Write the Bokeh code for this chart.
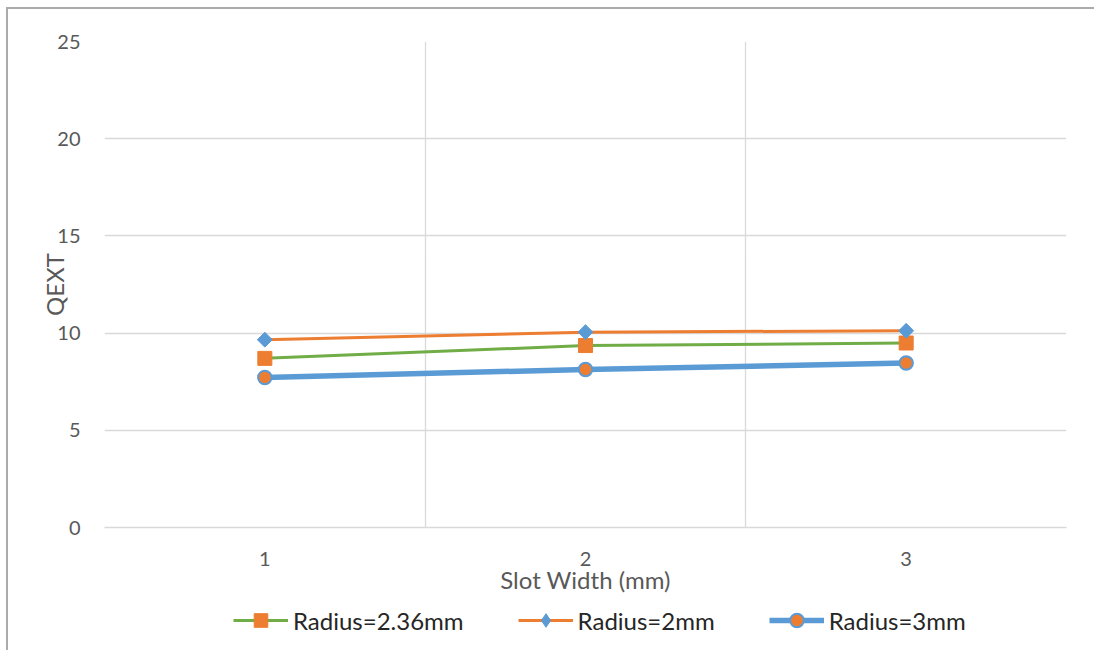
import numpy as np
from bokeh.plotting import figure
from bokeh.layouts import column
from bokeh.models import Range1d, FixedTicker, Legend, LegendItem
from bokeh.embed import file_html
from bokeh.resources import INLINE

# ---- data ----
slot_width = [1, 2, 3]
tick_labels = {1: "1", 2: "2", 3: "3"}
qext_r236 = [8.70, 9.36, 9.49]
qext_r2 = [9.66, 10.05, 10.12]
qext_r3 = [7.72, 8.13, 8.46]
series_names = ["Radius=2.36mm", "Radius=2mm", "Radius=3mm"]

GREEN = "#70AD47"
ORANGE = "#ED7D31"
BLUE = "#5B9BD5"
FONT = "Lato"
GRID = "#d9d9d9"

p = figure(width=1086, height=589, output_backend="svg", toolbar_location=None,
           x_range=Range1d(0.5, 3.5), y_range=Range1d(0, 25),
           min_border_left=96, min_border_top=32, min_border_right=28, min_border_bottom=71)
p.outline_line_color = None
p.background_fill_color = "white"
p.border_fill_color = "white"

# grids
p.xgrid.ticker = FixedTicker(ticks=[0.5, 1.5, 2.5, 3.5])
p.xgrid.grid_line_color = GRID
p.xgrid.grid_line_width = 1.3
p.ygrid.ticker = FixedTicker(ticks=[0, 5, 10, 15, 20, 25])
p.ygrid.grid_line_color = GRID
p.ygrid.grid_line_width = 1.3

# x axis
p.xaxis.ticker = FixedTicker(ticks=slot_width)
p.xaxis.major_label_overrides = tick_labels
p.xaxis.major_tick_line_color = None
p.xaxis.minor_tick_line_color = None
p.xaxis.axis_line_color = GRID
p.xaxis.axis_line_width = 1.3
p.xaxis.major_label_text_font = FONT
p.xaxis.major_label_text_font_size = "20px"
p.xaxis.major_label_text_color = "#595959"
p.xaxis.major_label_standoff = 18
p.xaxis.axis_label = "Slot Width (mm)"
p.xaxis.axis_label_text_font = FONT
p.xaxis.axis_label_text_font_size = "24px"
p.xaxis.axis_label_text_font_style = "normal"
p.xaxis.axis_label_text_color = "#595959"
p.xaxis.axis_label_standoff = -4

# y axis
p.yaxis.ticker = FixedTicker(ticks=[0, 5, 10, 15, 20, 25])
p.yaxis.major_tick_line_color = None
p.yaxis.minor_tick_line_color = None
p.yaxis.axis_line_color = None
p.yaxis.major_label_text_font = FONT
p.yaxis.major_label_text_font_size = "20px"
p.yaxis.major_label_text_color = "#595959"
p.yaxis.major_label_standoff = 18
p.yaxis.axis_label = "QEXT"
p.yaxis.axis_label_text_font = FONT
p.yaxis.axis_label_text_font_size = "24px"
p.yaxis.axis_label_text_font_style = "normal"
p.yaxis.axis_label_text_color = "#595959"
p.yaxis.axis_label_standoff = -15

# series
p.line(slot_width, qext_r236, line_color=GREEN, line_width=3)
p.scatter(slot_width, qext_r236, marker="square", size=14,
          fill_color=ORANGE, line_color=ORANGE, line_width=1)
p.line(slot_width, qext_r2, line_color=ORANGE, line_width=3)
p.scatter(slot_width, qext_r2, marker="square", angle=np.pi / 4, size=10.5,
          fill_color=BLUE, line_color=BLUE, line_width=1)
p.line(slot_width, qext_r3, line_color=BLUE, line_width=5.5)
p.scatter(slot_width, qext_r3, marker="circle", size=13.5,
          fill_color=ORANGE, line_color=BLUE, line_width=2)

# ---- legend strip (separate small figure below; series lie outside its view) ----
q = figure(width=1086, height=52, output_backend="svg", toolbar_location=None,
           x_range=Range1d(0.5, 3.5), y_range=Range1d(100, 101),
           min_border_left=0, min_border_right=0, min_border_top=0, min_border_bottom=0)
q.axis.visible = False
q.grid.visible = False
q.outline_line_color = None
q.background_fill_color = "white"
q.border_fill_color = "white"

g1 = q.line(slot_width, qext_r236, line_color=GREEN, line_width=3)
s1 = q.scatter(slot_width, qext_r236, marker="square", fill_color=ORANGE, line_color=ORANGE)
g2 = q.line(slot_width, qext_r2, line_color=ORANGE, line_width=3)
s2 = q.scatter(slot_width, qext_r2, marker="diamond", fill_color=BLUE, line_color=BLUE)
g3 = q.line(slot_width, qext_r3, line_color=BLUE, line_width=5.5)
s3 = q.scatter(slot_width, qext_r3, marker="circle", fill_color=ORANGE, line_color=BLUE, line_width=2)

legend = Legend(items=[
    LegendItem(label=series_names[0], renderers=[g1, s1]),
    LegendItem(label=series_names[1], renderers=[g2, s2]),
    LegendItem(label=series_names[2], renderers=[g3, s3]),
], orientation="horizontal", location=(129, 13))
legend.glyph_width = 55
legend.glyph_height = 34
legend.label_standoff = 5
legend.spacing = 54
legend.padding = 0
legend.margin = 0
legend.border_line_color = None
legend.background_fill_alpha = 0
legend.label_text_font = FONT
legend.label_text_font_size = "24px"
legend.label_text_color = "#262626"
q.add_layout(legend, "center")

layout = column(p, q, spacing=0, margin=(7, 0, 0, 6),
                styles={"border-top": "2px solid #ababab", "border-left": "2px solid #ababab"})

open("out.html", "w").write(file_html(layout, INLINE))
